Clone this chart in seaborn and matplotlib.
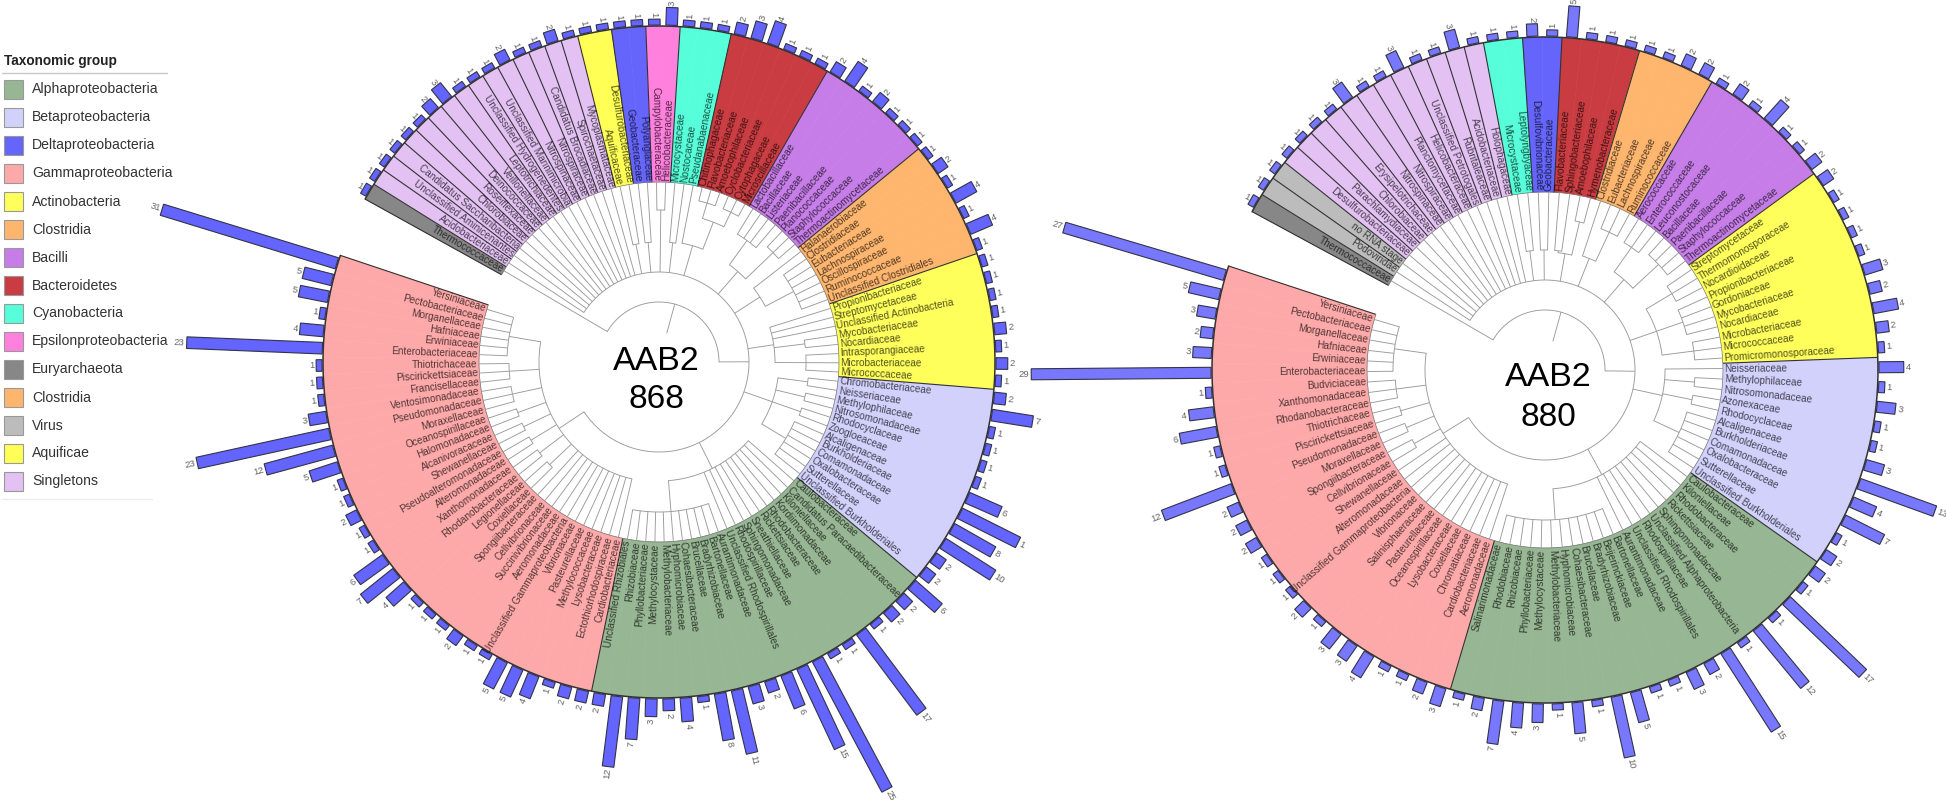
import numpy as np
import matplotlib
matplotlib.use("Agg")
import matplotlib.pyplot as plt
from matplotlib.patches import Rectangle
import seaborn as sns

# 1) Data - leaves run clockwise, starting at Thermococcaceae
families_868 = [
    "Thermococcaceae", "Acidobacteriaceae", "Unclassified Aminicenantes", "Candidatus Saccharibacteria",
    "Chlorobiaceae", "Roseiflexaceae", "Deinococcaceae", "Veillonellaceae", "Leptotrichiaceae",
    "Unclassified Hydrogenedentes", "Unclassified Marinimicrobia", "Nitrospinaceae", "Nitrospiraceae",
    "Candidatus Brocadiaceae", "Spirochaetaceae", "Mycoplasmataceae",
    "Aquificaceae", "Desulfurobacteriaceae",
    "Geobacteraceae", "Polyangiaceae",
    "Campylobacteraceae", "Helicobacteraceae",
    "Microcystaceae", "Nostocaceae", "Pseudanabaenaceae",
    "Chitinophagaceae", "Flavobacteriaceae", "Amoebophilaceae", "Cyclobacteriaceae", "Cytophagaceae", "Microscillaceae",
    "Lactobacillaceae", "Bacillaceae", "Listeriaceae", "Paenibacillaceae", "Planococcaceae", "Staphylococcaceae",
    "Thermoactinomycetaceae",
    "Halanaerobiaceae", "Clostridiaceae", "Eubacteriaceae", "Lachnospiraceae", "Oscillospiraceae", "Ruminococcaceae",
    "Unclassified Clostridiales",
    "Propionibacteriaceae", "Streptomycetaceae", "Unclassified Actinobacteria", "Mycobacteriaceae", "Nocardiaceae",
    "Intrasporangiaceae", "Microbacteriaceae", "Micrococcaceae",
    "Chromobacteriaceae", "Neisseriaceae", "Methylophilaceae", "Nitrosomonadaceae", "Rhodocyclaceae", "Zoogloeaceae",
    "Alcaligenaceae", "Burkholderiaceae", "Comamonadaceae", "Oxalobacteraceae", "Sutterellaceae",
    "Unclassified Burkholderiales",
    "Caulobacteraceae", "Candidatus Paracaedibacteraceae", "Kiloniellaceae", "Kordiimonadaceae", "Rhodobacteraceae",
    "Rickettsiaceae", "Sneathiellaceae", "Sphingomonadaceae", "Rhodospirillaceae", "Unclassified Rhodospirillales",
    "Aurantimonadaceae", "Bartonellaceae", "Bradyrhizobiaceae", "Brucellaceae", "Cohaesibacteraceae",
    "Hyphomicrobiaceae", "Methylobacteriaceae", "Methylocystaceae", "Phyllobacteriaceae", "Rhizobiaceae",
    "Unclassified Rhizobiales",
    "Cardiobacteriaceae", "Ectothiorhodospiraceae", "Lysobacteraceae", "Methylococcaceae", "Pasteurellaceae",
    "Vibrionaceae", "Unclassified Gammaproteobacteria", "Aeromonadaceae", "Succinivibrionaceae", "Cellvibrionaceae",
    "Spongiibacteraceae", "Coxiellaceae", "Legionellaceae", "Rhodanobacteraceae", "Xanthomonadaceae",
    "Alteromonadaceae", "Pseudoalteromonadaceae", "Shewanellaceae", "Alcanivoracaceae", "Halomonadaceae",
    "Oceanospirillaceae", "Moraxellaceae", "Pseudomonadaceae", "Ventosimonadaceae", "Francisellaceae",
    "Piscirickettsiaceae", "Thiotrichaceae", "Enterobacteriaceae", "Erwiniaceae", "Hafniaceae", "Morganellaceae",
    "Pectobacteriaceae", "Yersiniaceae",
]
group_names_868 = ["Euryarchaeota", "Singletons", "Aquificae", "Deltaproteobacteria", "Epsilonproteobacteria",
                   "Cyanobacteria", "Bacteroidetes", "Bacilli", "Clostridia", "Actinobacteria",
                   "Betaproteobacteria", "Alphaproteobacteria", "Gammaproteobacteria"]
group_sizes_868 = [1, 15, 2, 2, 2, 3, 6, 7, 7, 8, 12, 21, 33]
counts_868 = [1, 1, 1, 1, 1, 1, 2, 3, 1, 1, 1, 2, 1, 1, 2, 1,
              1, 1, 1, 1, 1, 3, 1, 1, 1,
              2, 3, 4, 1, 1, 1,
              2, 4, 1, 2, 1, 1, 1,
              1, 2, 1, 4, 1, 4, 1,
              1, 1, 1, 1, 2, 1, 2, 1,
              2, 7, 1, 1, 1, 1, 6, 11, 8, 10, 2, 2,
              6, 2, 2, 1, 17, 1, 1, 25, 15, 6, 2, 3, 11, 8, 1, 4, 2, 3, 7, 12, 2,
              2, 2, 1, 4, 5, 5, 1, 1, 2, 1, 1, 1, 4, 7, 6, 1, 1, 2, 1, 1, 5, 12, 23, 3, 1, 1, 1, 23, 4, 1, 5, 5, 31]

families_880 = [
    "Thermococcaceae", "Podoviridae", "no RNA stage",
    "Desulfurobacteriaceae", "Parachlamydiaceae", "Chlorobiaceae", "Erysipelotrichaceae", "Nitrospinaceae",
    "Nitrospiraceae", "Planctomycetaceae", "Helicobacteraceae", "Unclassified Petrotogales", "Rubritaleaceae",
    "Acidobacteriaceae", "Holophagaceae",
    "Microcystaceae", "Leptolyngbyaceae",
    "Desulfovibrionaceae", "Geobacteraceae",
    "Flavobacteriaceae", "Sphingobacteriaceae", "Amoebophilaceae", "Hymenobacteraceae",
    "Clostridiaceae", "Eubacteriaceae", "Lachnospiraceae", "Ruminococcaceae",
    "Aerococcaceae", "Enterococcaceae", "Leuconostocaceae", "Bacillaceae", "Paenibacillaceae", "Staphylococcaceae",
    "Thermoactinomycetaceae",
    "Streptomycetaceae", "Thermomonosporaceae", "Nocardioidaceae", "Propionibacteriaceae", "Gordoniaceae",
    "Mycobacteriaceae", "Nocardiaceae", "Microbacteriaceae", "Micrococcaceae", "Promicromonosporaceae",
    "Neisseriaceae", "Methylophilaceae", "Nitrosomonadaceae", "Azonexaceae", "Rhodocyclaceae", "Alcaligenaceae",
    "Burkholderiaceae", "Comamonadaceae", "Oxalobacteraceae", "Sutterellaceae", "Unclassified Burkholderiales",
    "Caulobacteraceae", "Kiloniellaceae", "Rhodobacteraceae", "Rickettsiaceae", "Sphingomonadaceae",
    "Unclassified Alphaproteobacteria", "Rhodospirillaceae", "Unclassified Rhodospirillales", "Aurantimonadaceae",
    "Bartonellaceae", "Beijerinckiaceae", "Bradyrhizobiaceae", "Brucellaceae", "Cohaesibacteraceae",
    "Hyphomicrobiaceae", "Methylobacteriaceae", "Methylocystaceae", "Phyllobacteriaceae", "Rhizobiaceae",
    "Rhodobiaceae", "Salinarimonadaceae",
    "Aeromonadaceae", "Cardiobacteriaceae", "Chromatiaceae", "Coxiellaceae", "Lysobacteraceae", "Oceanospirillaceae",
    "Pasteurellaceae", "Salinisphaeraceae", "Vibrionaceae", "Unclassified Gammaproteobacteria", "Alteromonadaceae",
    "Shewanellaceae", "Cellvibrionaceae", "Spongiibacteraceae", "Moraxellaceae", "Pseudomonadaceae",
    "Piscirickettsiaceae", "Thiotrichaceae", "Rhodanobacteraceae", "Xanthomonadaceae", "Budviciaceae",
    "Enterobacteriaceae", "Erwiniaceae", "Hafniaceae", "Morganellaceae", "Pectobacteriaceae", "Yersiniaceae",
]
group_names_880 = ["Euryarchaeota", "Virus", "Singletons", "Cyanobacteria", "Deltaproteobacteria", "Bacteroidetes",
                   "Clostridia", "Bacilli", "Actinobacteria", "Betaproteobacteria", "Alphaproteobacteria",
                   "Gammaproteobacteria"]
group_sizes_880 = [1, 2, 12, 2, 2, 4, 4, 7, 10, 11, 21, 27]
counts_880 = [1, 1, 1,
              1, 1, 1, 1, 3, 1, 1, 3, 1, 1, 3, 1,
              1, 1, 2, 1, 5, 1, 1, 1,
              1, 1, 2, 2,
              1, 2, 1, 4, 1, 1, 2,
              2, 1, 1, 1, 1, 3, 2, 4, 2, 1,
              4, 1, 3, 1, 1, 3, 13, 4, 7, 1, 2,
              2, 1, 17, 1, 12, 1, 15, 2, 3, 1, 1, 5, 10, 1, 5, 1, 3, 4, 7, 2, 1,
              3, 2, 1, 1, 4, 3, 3, 1, 2, 1, 1, 1, 2, 2, 2, 12, 1, 1, 6, 4, 1, 29, 3, 2, 3, 5, 27]

legend_names = ["Alphaproteobacteria", "Betaproteobacteria", "Deltaproteobacteria", "Gammaproteobacteria",
                "Actinobacteria", "Clostridia", "Bacilli", "Bacteroidetes", "Cyanobacteria",
                "Epsilonproteobacteria", "Euryarchaeota", "Clostridia", "Virus", "Aquificae", "Singletons"]
group_colors = {"Alphaproteobacteria": "#97b693", "Betaproteobacteria": "#d1d1fc", "Deltaproteobacteria": "#6565fb",
                "Gammaproteobacteria": "#fea9a9", "Actinobacteria": "#ffff5c", "Clostridia": "#feb66f",
                "Bacilli": "#c67de8", "Bacteroidetes": "#c93c41", "Cyanobacteria": "#56ffd9",
                "Epsilonproteobacteria": "#ff80dd", "Euryarchaeota": "#878787", "Virus": "#bcbcbc",
                "Aquificae": "#ffff55", "Singletons": "#e3c1f3"}


# 2) Tree topology: [height, children...], None is a leaf
def comb(height, n):
    return [height] + [None] * n

tree_868 = [60, None, [90] + [None] * 15 + [
    comb(120, 2), comb(120, 2), comb(152, 2), comb(120, 2),
    [121, None, [150, comb(166, 3), comb(166, 3)]],
    [120, comb(150, 4), comb(158, 3)],
    [120, None, comb(152, 6)],
    [116, None, None, None, comb(147, 2), comb(147, 3)],
    [120, comb(150, 2), comb(150, 2), comb(150, 2), comb(148, 6)],
    [119] + [None] * 10 + [comb(150, 11)],
    [120] + [None] * 11 + [comb(150, 2) for _ in range(5)] + [comb(150, 3), comb(150, 3), comb(152, 6)],
]]
tree_880 = [60, None, [90] + [None] * 14 + [
    comb(120, 2), comb(120, 2),
    [118, comb(120, 2), comb(152, 2)],
    [120, None, comb(152, 3)],
    [120, comb(150, 3), comb(155, 4)],
    [118, comb(148, 3), comb(146, 4), comb(150, 3)],
    [120, None, comb(150, 2), comb(150, 2), comb(148, 6)],
    [119] + [None] * 9 + [comb(150, 12)],
    [120] + [None] * 12 + [comb(150, 2) for _ in range(3)] + [comb(150, 3), comb(152, 6)],
]]

bar_labels_868 = [str(v) for v in counts_868]
bar_labels_868[60] = "1"  # printed like this in the original
bar_labels_880 = [str(v) for v in counts_880]

# 3) Figure
W, H = 1946, 800
sns.set_theme(style="white")
plt.rcParams["font.family"] = ["Liberation Sans", "DejaVu Sans"]
fig = plt.figure(figsize=(W / 100, H / 100), dpi=100, facecolor="white")
RMAX = 540
TREE_COLOR = "#9a9a9a"


def draw_tree(ax, node, angles, r_in):
    if node is None:
        return next(angles), r_in
    h = node[0]
    kids = [draw_tree(ax, c, angles, r_in) for c in node[1:]]
    for a, top in kids:
        ax.plot([np.radians(a)] * 2, [h, top], color=TREE_COLOR, lw=0.65, solid_capstyle="butt")
    arc = np.radians(np.linspace(kids[0][0], kids[-1][0], 120))
    ax.plot(arc, np.full(arc.size, h), color=TREE_COLOR, lw=0.65)
    return (kids[0][0] + kids[-1][0]) / 2, h


def draw_circle(cx, cy, R, r_in, a0, a1, families, group_names, group_sizes, counts, bar_labels, tree,
                unit, bar_color, half_w):
    ax = fig.add_axes([(cx - RMAX) / W, 1 - (cy + RMAX) / H, 2 * RMAX / W, 2 * RMAX / H], polar=True)
    ax.patch.set_alpha(0)
    n = len(families)
    step = (a0 - a1) / n
    mids = a0 - step * (np.arange(n) + 0.5)
    theta = np.radians(mids % 360)
    groups = np.repeat(group_names, group_sizes)

    # coloured band
    sns.barplot(x=theta, y=np.full(n, R - r_in), hue=groups, palette=group_colors, native_scale=True, dodge=False,
                width=1, saturation=1, errorbar=None, bottom=r_in, linewidth=0.4, legend=False, ax=ax)
    for p in ax.patches:
        p.set_edgecolor(p.get_facecolor())

    # abundance bars keep a constant pixel width, polar bars would fan out
    for t, val in zip(theta, counts):
        r0, r1 = R + 1, R + 1 + val * unit
        d0, d1 = np.arcsin(half_w / r0), np.arcsin(half_w / r1)
        ax.fill([t - d0, t + d0, t + d1, t - d1], [r0, r0, r1, r1], facecolor=bar_color,
                edgecolor="#33334a", lw=0.8, zorder=3)

    # separators and outlines
    edge = 0
    splits = {0, n}
    for g, size in zip(group_names, group_sizes):
        splits.add(edge)
        if g in ("Singletons", "Virus", "Euryarchaeota"):
            splits.update(range(edge, edge + size))
        edge += size
        splits.add(edge)
    for i in sorted(splits):
        a = np.radians(a0 - step * i)
        ax.plot([a, a], [r_in, R], color="#333333", lw=0.8, solid_capstyle="butt")
    arc = np.radians(np.linspace(a0, a1, 600))
    ax.plot(arc, np.full(arc.size, R), color="#333333", lw=1.1)
    ax.plot(arc, np.full(arc.size, r_in), color="#777777", lw=0.5)

    # texts
    for m, fam, val, lab in zip(mids, families, counts, bar_labels):
        m360 = m % 360
        right = m360 < 90 or m360 > 270
        rot = m if right else m - 180
        ax.text(np.radians(m), r_in + 1.5, fam, rotation=rot, rotation_mode="anchor",
                ha="left" if right else "right", va="center", fontsize=7.2, color="black", alpha=0.68)
        ax.text(np.radians(m), R + 3 + val * unit, lab, rotation=rot, rotation_mode="anchor",
                ha="left" if right else "right", va="center", fontsize=6.8, color="#666666")

    # dendrogram
    top_angle, top_h = draw_tree(ax, tree, iter(mids), r_in)
    ax.plot([np.radians(top_angle)] * 2, [30, top_h], color=TREE_COLOR, lw=0.65)

    ax.set_xlim(0, 2 * np.pi)
    ax.set_ylim(0, RMAX)
    ax.axis("off")
    return ax


draw_circle(659, 362, 336, 180, 151.0, -198.5, families_868, group_names_868, group_sizes_868, counts_868,
            bar_labels_868, tree_868, 5.9, "#6464ff", 5.8)
draw_circle(1545, 370, 333, 178, 151.6, -198.2, families_880, group_names_880, group_sizes_880, counts_880,
            bar_labels_880, tree_880, 6.2, "#7878ff", 5.5)

# 4) Overlay in pixel coordinates: legend and centre titles
ov = fig.add_axes([0, 0, 1, 1])
ov.set_xlim(0, W)
ov.set_ylim(H, 0)
ov.axis("off")
ov.patch.set_alpha(0)

ov.text(4, 61, "Taxonomic group", fontsize=9.8, fontweight="bold", color="#222222", va="center")
ov.plot([2, 167], [73, 73], color="#c8c8c8", lw=1)
ov.plot([2, 152], [499, 499], color="#ececec", lw=1)
for i, name in enumerate(legend_names):
    y = 89.5 + i * 28
    ov.add_patch(Rectangle((4, y - 9.5), 19, 19, facecolor=group_colors[name], edgecolor="#999999", lw=0.8))
    ov.text(32, y, name, fontsize=10.1, color="#333333", va="center")

for x, y1, y2, num in [(656, 361, 400, "868"), (1548, 377, 418, "880")]:
    ov.text(x, y1, "AAB2", fontsize=24.5, color="black", ha="center", va="center")
    ov.text(x, y2, num, fontsize=24, color="black", ha="center", va="center")

fig.savefig("out.png", dpi=100, facecolor="white")
